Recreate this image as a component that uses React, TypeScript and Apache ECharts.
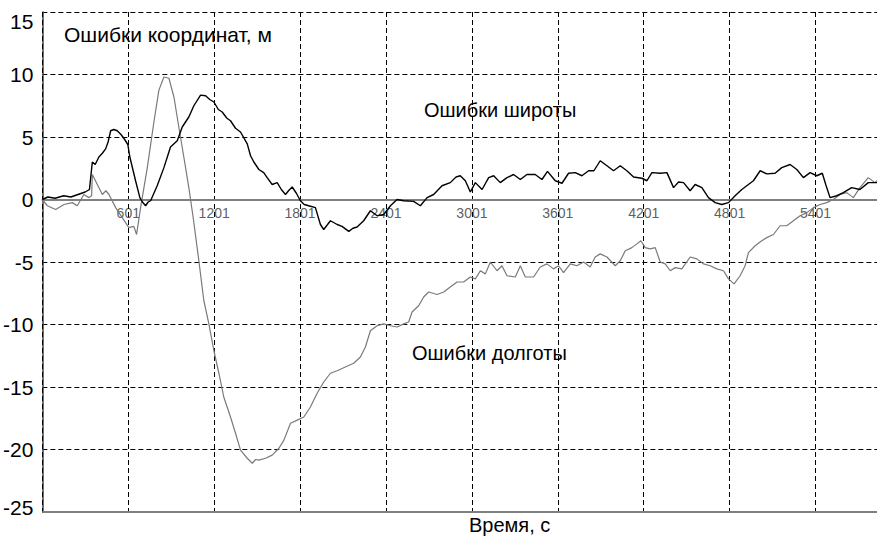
import React, { useEffect, useRef } from "react";
import * as echarts from "echarts";

// Time in seconds (sample number, first sample = 1)
const latTime = [1, 40, 90, 150, 200, 250, 300, 330, 350, 370, 396, 420, 443, 460, 478, 500, 524, 550, 570, 598, 612, 652, 682, 700, 722, 740, 757, 780, 803, 850, 896, 943, 978, 1024, 1059, 1106, 1141, 1170, 1199, 1230, 1257, 1290, 1315, 1350, 1385, 1432, 1455, 1478, 1513, 1547, 1571, 1606, 1641, 1670, 1699, 1720, 1746, 1775, 1803, 1830, 1861, 1908, 1943, 1966, 2013, 2060, 2094, 2141, 2170, 2199, 2245, 2292, 2339, 2385, 2432, 2478, 2525, 2594, 2641, 2688, 2734, 2792, 2850, 2890, 2920, 2955, 2990, 3025, 3072, 3118, 3153, 3199, 3246, 3292, 3339, 3385, 3443, 3490, 3529, 3583, 3630, 3676, 3723, 3769, 3816, 3853, 3897, 3944, 3990, 4037, 4083, 4130, 4188, 4223, 4258, 4316, 4363, 4409, 4444, 4479, 4525, 4560, 4607, 4653, 4700, 4746, 4793, 4839, 4886, 4932, 4967, 5014, 5060, 5118, 5165, 5223, 5270, 5316, 5363, 5409, 5448, 5472, 5502, 5549, 5595, 5653, 5711, 5769, 5830];
const latValues = [0, 0.2, 0.1, 0.3, 0.2, 0.4, 0.6, 0.8, 3.0, 2.8, 3.4, 3.7, 4.05, 4.6, 5.5, 5.6, 5.5, 5.2, 4.9, 4.4, 3.4, 1.5, 0.15, -0.2, -0.5, -0.2, -0.1, 0.5, 1.1, 2.55, 4.2, 4.7, 5.8, 6.6, 7.5, 8.35, 8.3, 8.0, 7.8, 7.2, 7.0, 6.5, 6.3, 5.7, 5.4, 4.45, 3.5, 3.0, 2.4, 2.15, 1.75, 1.2, 1.35, 0.8, 0.4, 0.7, 1.0, 0.5, -0.1, -0.4, -0.5, -0.65, -2.0, -2.4, -1.7, -2.0, -2.15, -2.55, -2.3, -2.2, -1.7, -0.9, -1.3, -1.2, -0.5, 0.0, -0.1, -0.15, -0.5, 0.15, 0.4, 1.1, 1.35, 1.8, 1.9, 1.5, 0.6, 1.35, 0.8, 1.75, 1.9, 1.35, 1.75, 2.0, 1.6, 2.0, 2.0, 1.6, 2.25, 1.5, 1.3, 2.1, 2.15, 1.9, 2.3, 2.3, 3.1, 2.7, 2.3, 2.7, 2.3, 1.8, 1.7, 1.5, 2.15, 2.1, 2.15, 0.95, 1.4, 1.35, 0.7, 1.2, 0.95, 0.15, -0.25, -0.4, -0.25, 0.3, 0.8, 1.2, 1.5, 2.3, 2.05, 2.1, 2.55, 2.8, 2.4, 1.75, 2.15, 1.9, 2.1, 1.2, 0.15, 0.3, 0.55, 0.95, 0.8, 1.35, 1.35];

const lonTime = [1, 36, 94, 152, 210, 245, 291, 326, 345, 350, 385, 420, 445, 466, 513, 559, 605, 640, 659, 687, 734, 780, 815, 850, 885, 920, 954, 989, 1024, 1055, 1094, 1129, 1164, 1199, 1234, 1268, 1315, 1350, 1385, 1432, 1467, 1490, 1513, 1560, 1606, 1653, 1688, 1734, 1781, 1827, 1873, 1920, 1966, 2013, 2060, 2117, 2175, 2222, 2257, 2292, 2339, 2385, 2432, 2478, 2525, 2559, 2583, 2629, 2664, 2699, 2758, 2804, 2850, 2897, 2943, 2990, 3025, 3060, 3095, 3130, 3176, 3211, 3246, 3304, 3339, 3374, 3432, 3478, 3525, 3571, 3606, 3641, 3688, 3734, 3781, 3827, 3862, 3897, 3944, 4002, 4037, 4072, 4118, 4153, 4181, 4211, 4246, 4281, 4316, 4351, 4386, 4421, 4467, 4525, 4572, 4618, 4665, 4711, 4758, 4793, 4832, 4874, 4909, 4932, 4979, 5025, 5060, 5107, 5153, 5200, 5246, 5293, 5340, 5386, 5432, 5479, 5525, 5572, 5618, 5665, 5711, 5769, 5815, 5830];
const lonValues = [0, -0.5, -0.8, -0.4, -0.25, -0.5, 0.4, 0.15, 0.3, 2.0, 1.2, 0.4, 0.7, 0.4, -0.65, -1.45, -2.25, -2.15, -2.8, -0.65, 2.55, 6.2, 8.75, 9.8, 9.7, 8.2, 5.8, 3.4, 0.95, -1.5, -4.9, -8.1, -9.95, -12.1, -13.9, -15.8, -17.4, -18.7, -20.05, -20.7, -21.1, -20.8, -20.85, -20.7, -20.45, -19.9, -19.25, -17.9, -17.65, -17.4, -16.6, -15.5, -14.6, -13.9, -13.7, -13.4, -13.1, -12.6, -11.8, -10.5, -10.1, -9.95, -10.1, -10.2, -9.95, -9.8, -9.0, -8.5, -7.8, -7.4, -7.6, -7.4, -7.0, -6.6, -6.6, -6.2, -6.35, -5.7, -5.95, -5.0, -5.7, -5.3, -6.1, -6.2, -5.3, -6.2, -6.2, -5.4, -5.15, -5.55, -5.3, -5.85, -5.15, -5.3, -5.0, -5.4, -4.6, -4.35, -4.6, -5.3, -4.9, -4.1, -3.85, -3.55, -3.3, -3.85, -3.95, -3.85, -5.0, -5.15, -5.7, -5.45, -5.55, -4.6, -4.75, -5.15, -5.3, -5.55, -5.7, -6.35, -6.75, -6.1, -5.3, -4.25, -3.7, -3.3, -3.05, -2.8, -2.1, -2.1, -1.7, -1.3, -1.05, -0.65, -0.4, -0.25, 0.0, 0.4, 0.55, 0.15, 0.95, 1.75, 1.35, 1.5];

const xTickStep = 600;
const xMaxOffset = 5829;
const xTickLabels = ["601", "1201", "1801", "2401", "3001", "3601", "4201", "4801", "5401"];
const yTicks = [15, 10, 5, 0, -5, -10, -15, -20, -25];

const titleText = "Ошибки координат, м";
const latLabel = "Ошибки широты";
const lonLabel = "Ошибки долготы";
const xAxisTitle = "Время, с";

const FONT = "'Liberation Sans Narrow', 'Arial Narrow', 'Liberation Sans', Arial, sans-serif";

export default function App() {
  const ref = useRef<HTMLDivElement>(null);

  useEffect(() => {
    if (!ref.current) return;
    const chart = echarts.init(ref.current, undefined, { renderer: "svg" });
    const latData = latTime.map((t, i) => [t - 1, latValues[i]]);
    const lonData = lonTime.map((t, i) => [t - 1, lonValues[i]]);
    const tickLabelData = xTickLabels.map((s) => ({ value: [Number(s) - 1, 0], name: s }));
    const yMax = Math.max(...yTicks);
    const yMin = Math.min(...yTicks);

    chart.setOption({
      animation: false,
      backgroundColor: "#ffffff",
      grid: { left: 42, right: 0, top: 12, bottom: 38, containLabel: false },
      xAxis: {
        type: "value",
        min: 0,
        max: xMaxOffset,
        interval: xTickStep,
        axisLine: { show: true, onZero: true, lineStyle: { color: "#808080", width: 2 } },
        axisTick: { show: false },
        axisLabel: { show: false },
        splitLine: { show: true, lineStyle: { color: "#000", type: [5, 3], width: 1 } },
        z: 3,
      },
      yAxis: {
        type: "value",
        min: yMin,
        max: yMax,
        interval: 5,
        axisLine: { show: true, onZero: false, lineStyle: { color: "#404040", width: 1.5 } },
        axisTick: { show: false },
        axisLabel: {
          margin: 9,
          color: "#000",
          fontSize: 21,
          fontFamily: FONT,
          formatter: (v: number) => {
            if (v === yMax) return "{top|" + v + "}";
            if (v === yMin) return "{bot|" + v + "}";
            return "{mid|" + v + "}";
          },
          rich: {
            top: { fontSize: 21, fontFamily: FONT, color: "#000", padding: [18, 0, 0, 0] },
            bot: { fontSize: 21, fontFamily: FONT, color: "#000", padding: [0, 0, 10, 0] },
            mid: { fontSize: 21, fontFamily: FONT, color: "#000" },
          },
        },
        splitLine: { show: true, lineStyle: { color: "#000", type: [5, 3], width: 1 } },
      },
      series: [
        {
          name: "ticks",
          type: "scatter",
          data: tickLabelData,
          symbolSize: 0,
          silent: true,
          z: 2,
          label: {
            show: true,
            position: "bottom",
            distance: 6,
            formatter: (p: any) => p.name,
            color: "#333",
            fontSize: 14,
            fontFamily: FONT,
          },
        },
        {
          name: lonLabel,
          type: "line",
          data: lonData,
          showSymbol: false,
          symbol: "none",
          lineStyle: { color: "#7a7a7a", width: 1.2 },
          z: 4,
          markLine: {
            silent: true,
            symbol: "none",
            label: { show: false },
            lineStyle: { color: "#808080", width: 2, type: "solid" },
            data: [{ yAxis: yMin }],
          },
        },
        {
          name: latLabel,
          type: "line",
          data: latData,
          showSymbol: false,
          symbol: "none",
          lineStyle: { color: "#000", width: 1.4 },
          z: 5,
        },
      ],
      graphic: [
        { type: "text", left: 64, top: 24, style: { text: titleText, fontSize: 21, fontFamily: FONT, fill: "#000" } },
        { type: "text", left: 424, top: 100, style: { text: latLabel, fontSize: 20, fontFamily: FONT, fill: "#000" } },
        { type: "text", left: 412, top: 343, style: { text: lonLabel, fontSize: 20, fontFamily: FONT, fill: "#000" } },
        { type: "text", left: 469, top: 515, style: { text: xAxisTitle, fontSize: 20, fontFamily: FONT, fill: "#000" } },
      ],
    });

    return () => chart.dispose();
  }, []);

  return (
    <div
      ref={ref}
      style={{ position: "fixed", left: 0, top: 0, width: 877, height: 550, background: "#fff" }}
    />
  );
}
